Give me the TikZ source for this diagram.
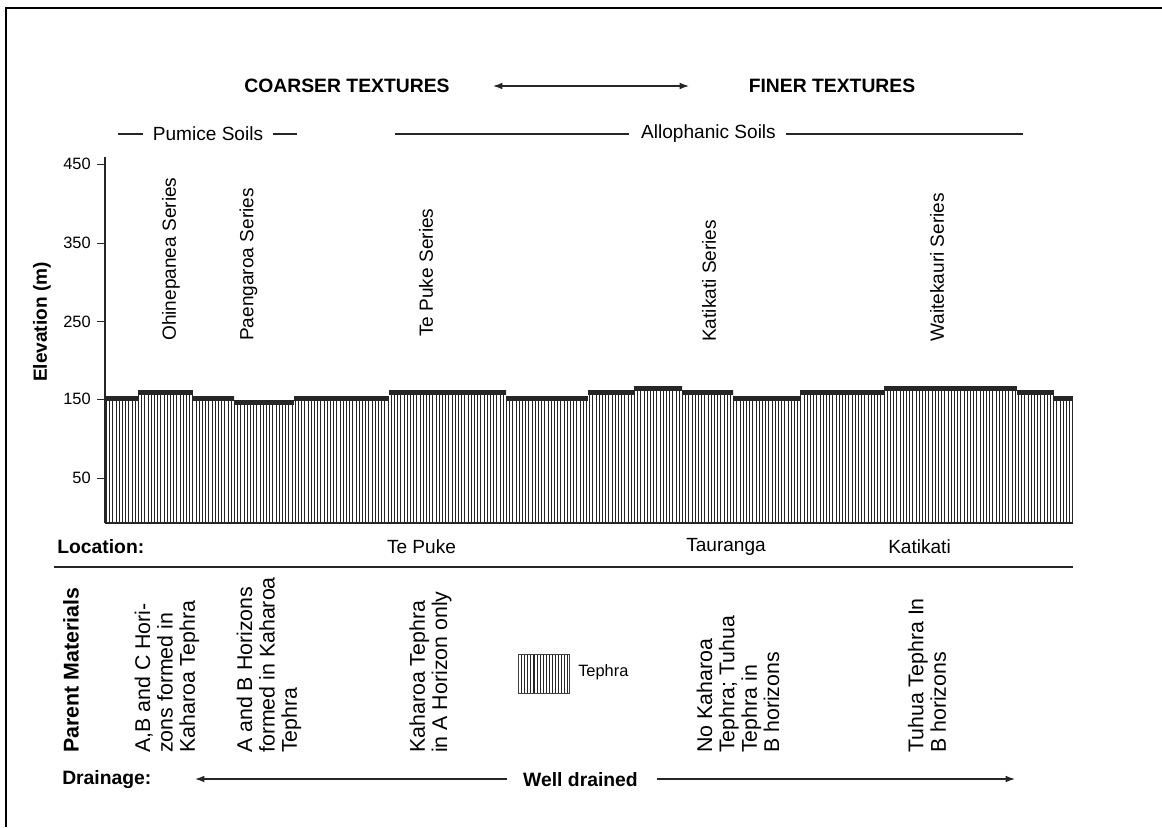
\documentclass[tikz,border=0pt]{standalone}
\usepackage{fontspec}
\setmainfont{Liberation Sans}
\usetikzlibrary{arrows.meta}
\begin{document}
\begin{tikzpicture}[x=0.75pt,y=-0.75pt,
  lbl/.style={inner sep=0pt, font=\fontsize{14.3}{17}\selectfont},
  bhead/.style={inner sep=0pt, font=\fontsize{14.5}{17}\selectfont\bfseries},
  vlab/.style={rotate=90, anchor=west, inner sep=0pt, text height=1.4ex, text depth=0.3ex, font=\fontsize{14.3}{17}\selectfont},
  vblock/.style={rotate=90, anchor=west, inner sep=0pt, align=left, font=\fontsize{16}{16.8}\selectfont},
  ticklbl/.style={inner sep=0pt, anchor=east, font=\fontsize{12.3}{14}\selectfont},
  rule/.style={draw=black!85, line width=0.9pt},
  arr/.style={draw=black!85, line width=0.9pt, -{Latex[length=7pt,width=5pt]}},
  dblarr/.style={draw=black!85, line width=0.9pt, {Latex[length=7pt,width=5pt]}-{Latex[length=7pt,width=5pt]}},
  hatch/.style={draw=black!85, line width=0.8pt},
  band/.style={draw=black!85, line width=3.8pt},
  frame/.style={draw=black, line width=2.2pt}
]
\useasboundingbox (0,0) rectangle (1162,827);
% frame
\coordinate (fr1) at (6,827);
\coordinate (fr2) at (6,8);
\coordinate (fr3) at (1162,8);
\draw[frame] (fr1) -- (fr2) -- (fr3);

% headers
\node[bhead] (coarse) at (347,86) {COARSER TEXTURES};
\node[bhead] (fine) at (832,86) {FINER TEXTURES};
\coordinate (ta) at (493,86);
\coordinate (tb) at (689,86);
\draw[dblarr] (ta) -- (tb);

% soil groups
\node[lbl] (pumice) at (208,134) {Pumice Soils};
\coordinate (pl1) at (118,134); \coordinate (pl2) at (143,134);
\coordinate (pr1) at (273,134); \coordinate (pr2) at (297,134);
\draw[rule] (pl1) -- (pl2);
\draw[rule] (pr1) -- (pr2);
\node[lbl] (allo) at (708.5,134) {Allophanic Soils};
\coordinate (al1) at (395,134); \coordinate (al2) at (629,134);
\coordinate (ar1) at (786,134); \coordinate (ar2) at (1023,134);
\draw[rule] (al1) -- (al2);
\draw[rule] (ar1) -- (ar2);

% profile hatch
\begin{scope}
\clip (105,523) -- (105,396) -- (138,396) -- (138,390) -- (193,390) -- (193,396)
  -- (234,396) -- (234,400) -- (294,400) -- (294,396) -- (389,396) -- (389,390)
  -- (506,390) -- (506,396) -- (588,396) -- (588,390) -- (634,390) -- (634,386)
  -- (682,386) -- (682,390) -- (733,390) -- (733,396) -- (800,396) -- (800,390)
  -- (884,390) -- (884,386) -- (1017,386) -- (1017,390) -- (1054,390) -- (1054,396)
  -- (1073,396) -- (1073,523) -- cycle;
\foreach \i in {0,...,302} {
  \draw[hatch] ({106.5+3.2*\i},380) -- ({106.5+3.2*\i},523);
}
\end{scope}
\foreach \a/\b/\t in {105/138/396, 138/193/390, 193/234/396, 234/294/400, 294/389/396,
  389/506/390, 506/588/396, 588/634/390, 634/682/386, 682/733/390, 733/800/396,
  800/884/390, 884/1017/386, 1017/1054/390, 1054/1073/396} {
  \draw[band] (\a,\t+2.5) -- (\b,\t+2.5);
}
\coordinate (bl) at (105,523);
\coordinate (br) at (1073,523);
\draw[rule] (bl) -- (br);

% axis
\coordinate (ax1) at (105,157);
\draw[rule] (ax1) -- (bl);
\foreach \v/\y in {450/164.3, 350/243.3, 250/321.7, 150/399.3, 50/478.3} {
  \draw[rule] (97,\y) -- (105,\y);
  \node[ticklbl] (tk\v) at (91,\y) {\v};
}
\node[rotate=90, inner sep=0pt, font=\fontsize{14.3}{17}\selectfont\bfseries] (elev) at (42,322) {Elevation (m)};

% series
\node[vlab] (s1) at (172,341) {Ohinepanea Series};
\node[vlab] (s2) at (249.5,341) {Paengaroa Series};
\node[vlab] (s3) at (429,337) {Te Puke Series};
\node[vlab] (s4) at (712,342) {Katikati Series};
\node[vlab] (s5) at (940,342) {Waitekauri Series};

% location
\node[bhead, anchor=west] (loc) at (57,547) {Location:};
\node[lbl] (l1) at (421.5,547) {Te Puke};
\node[lbl] (l2) at (726,547) {Tauranga};
\node[lbl] (l3) at (919.5,547) {Katikati};
\coordinate (ll) at (54,567);
\coordinate (lr) at (1073,567);
\draw[rule] (ll) -- (lr);

% parent materials
\node[rotate=90, anchor=west, inner sep=0pt, font=\fontsize{16}{17}\selectfont\bfseries] (pm) at (71,753) {Parent Materials};
\node[vblock] (p1) at (167,753) {A,B and C Hori-\\zons formed in\\Kaharoa Tephra};
\node[vblock] (p2) at (269,753) {A and B Horizons\\formed in Kaharoa\\Tephra};
\node[vblock] (p3) at (430.5,753) {Kaharoa Tephra\\in A Horizon only};
\node[vblock] (p4) at (738,753) {No Kaharoa\\Tephra; Tuhua\\Tephra in\\B horizons};
\node[vblock] (p5) at (927,753) {Tuhua Tephra In\\B horizons};

% legend
\begin{scope}
\clip (518.6,654.5) rectangle (569.5,693.5);
\foreach \i in {0,...,15} {
  \draw[hatch] ({521.8+3.05*\i},654) -- ({521.8+3.05*\i},694);
}
\end{scope}
\node[draw=black!75, line width=0.8pt, inner sep=0pt, minimum width=38.2pt, minimum height=29.2pt] (leg) at (544,674) {};
\node[inner sep=0pt, anchor=west, font=\fontsize{12.3}{14}\selectfont] (legt) at (578,672) {Tephra};

% drainage
\node[bhead, anchor=west] (drn) at (62,780) {Drainage:};
\node[bhead] (well) at (580.5,780) {Well drained};
\coordinate (dl1) at (507,779); \coordinate (dl2) at (195,779);
\coordinate (dr1) at (657,779); \coordinate (dr2) at (1015,779);
\draw[arr] (dl1) -- (dl2);
\draw[arr] (dr1) -- (dr2);
\end{tikzpicture}
\end{document}
